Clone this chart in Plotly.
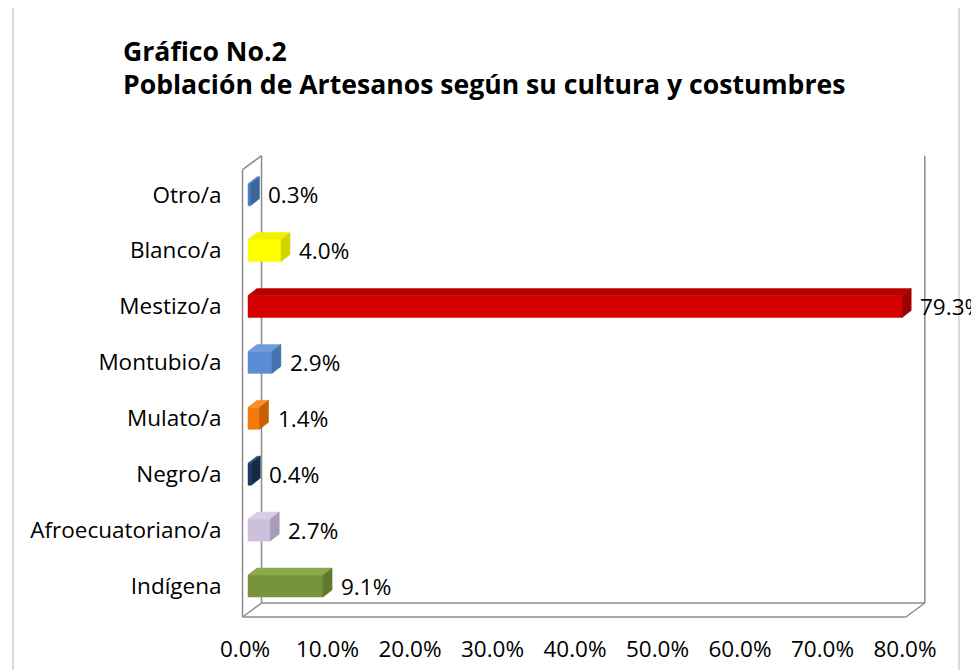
import plotly.graph_objects as go

# ---------------- data ----------------
categories = ["Indígena", "Afroecuatoriano/a", "Negro/a", "Mulato/a",
              "Montubio/a", "Mestizo/a", "Blanco/a", "Otro/a"]
values = [9.1, 2.7, 0.4, 1.4, 2.9, 79.3, 4.0, 0.3]
x_ticks = [0, 10, 20, 30, 40, 50, 60, 70, 80]
title_line1 = "Gráfico No.2"
title_line2 = "Población de Artesanos según su cultura y costumbres"

# front / top / side colours per bar
front_colors = ["#77933C", "#CCC0DA", "#1F3864", "#F47B0A",
                "#5A8ED4", "#D40000", "#FFFF00", "#4F81BD"]
top_colors = ["#8AA94A", "#D9CFE4", "#2A4A80", "#F88F2E",
              "#6E9DDB", "#B80000", "#F2F200", "#5D8CC6"]
side_colors = ["#5F7A2E", "#A99BBB", "#152847", "#C65F05",
               "#4372B0", "#9E0000", "#D4D400", "#3A679E"]

FONT = "Open Sans"
FS = 22.5

# ---------------- geometry ----------------
OFF = 8              # page body margin
PX_X = 8.25          # px per percent
PX_Y = 55.9          # px per category
L, R, T, B = 235 - OFF, 935 - OFF, 150 - OFF, 625 - OFF   # plot area in figure px
X0_PX = 245 - OFF    # pixel of 0 %
Y0_PX = 586 - OFF    # pixel of first category

bar_half = 11 / PX_Y
dx = 9 / PX_X
dy = 7 / PX_Y
x_off = 3 / PX_X


def px_paper_x(px):
    return (px - OFF - L) / (R - L)


def px_paper_y(py):
    return (B - (py - OFF)) / (B - T)


fig = go.Figure()

# walls / floor (3-D frame)
front_l, front_r = -0.3, 80.1
back_dx, back_dy = 19 / PX_X, 14 / PX_Y
floor_y = -31 / PX_Y
top_y = 7 + 25 / PX_Y
frame_color = "#8C8C8C"
frame_segments = [
    [(front_l, floor_y), (front_r, floor_y)],
    [(front_l + back_dx, floor_y + back_dy), (front_r + back_dx, floor_y + back_dy)],
    [(front_l, floor_y), (front_l + back_dx, floor_y + back_dy)],
    [(front_r, floor_y), (front_r + back_dx, floor_y + back_dy)],
    [(front_l, floor_y), (front_l, top_y)],
    [(front_l, top_y), (front_l + back_dx, top_y + back_dy)],
    [(front_l + back_dx, floor_y + back_dy), (front_l + back_dx, top_y + back_dy)],
    [(front_r + back_dx, floor_y + back_dy), (front_r + back_dx, top_y + back_dy)],
]
for seg in frame_segments:
    fig.add_trace(go.Scatter(x=[p[0] for p in seg], y=[p[1] for p in seg],
                             mode="lines", line=dict(color=frame_color, width=1.5),
                             hoverinfo="skip", showlegend=False))

# bars
for i, v in enumerate(values):
    y = i
    x0 = x_off
    x1 = x_off + v
    polys = [
        ([x0, x1, x1, x0], [y - bar_half, y - bar_half, y + bar_half, y + bar_half], front_colors[i]),
        ([x0, x1, x1 + dx, x0 + dx], [y + bar_half, y + bar_half, y + bar_half + dy, y + bar_half + dy], top_colors[i]),
        ([x1, x1 + dx, x1 + dx, x1], [y - bar_half, y - bar_half + dy, y + bar_half + dy, y + bar_half], side_colors[i]),
    ]
    for xs, ys, c in polys:
        fig.add_trace(go.Scatter(x=xs + [xs[0]], y=ys + [ys[0]], mode="lines",
                                 fill="toself", fillcolor=c,
                                 line=dict(color=c, width=0.5),
                                 hoverinfo="skip", showlegend=False))
    fig.add_annotation(x=x1 + dx, y=y, text=f"{v:.1f}%", showarrow=False,
                       xanchor="left", yanchor="middle", xshift=7,
                       font=dict(family=FONT, size=FS, color="#000000"))

# titles
fig.add_annotation(xref="paper", yref="paper", x=px_paper_x(121), y=px_paper_y(51),
                   text=f"<b>{title_line1}</b>", showarrow=False, xanchor="left", yanchor="middle",
                   font=dict(family=FONT, size=26.6, color="#000000"))
fig.add_annotation(xref="paper", yref="paper", x=px_paper_x(121), y=px_paper_y(84),
                   text=f"<b>{title_line2}</b>", showarrow=False, xanchor="left", yanchor="middle",
                   font=dict(family=FONT, size=26.6, color="#000000"))

# chart border
fig.add_shape(type="rect", xref="paper", yref="paper",
              x0=px_paper_x(13), x1=px_paper_x(959),
              y0=px_paper_y(720), y1=px_paper_y(4),
              line=dict(color="#D9D9D9", width=2), layer="below")

fig.update_layout(
    width=979, height=670, autosize=False,
    margin=dict(l=L, r=979 - R, t=T, b=670 - B),
    paper_bgcolor="white", plot_bgcolor="white",
    font=dict(family=FONT, size=FS, color="#000000"),
    xaxis=dict(range=[(L - X0_PX) / PX_X, (R - X0_PX) / PX_X],
               tickvals=x_ticks, ticktext=[f"{t:.1f}%" for t in x_ticks],
               showgrid=False, zeroline=False, showline=False,
               ticks="outside", ticklen=0, ticklabelstandoff=4),
    yaxis=dict(range=[(Y0_PX - B) / PX_Y, (Y0_PX - T) / PX_Y],
               tickvals=list(range(len(categories))), ticktext=categories,
               showgrid=False, zeroline=False, showline=False,
               ticks="outside", ticklen=0, ticklabelstandoff=8),
)

fig.write_html("out.html")
